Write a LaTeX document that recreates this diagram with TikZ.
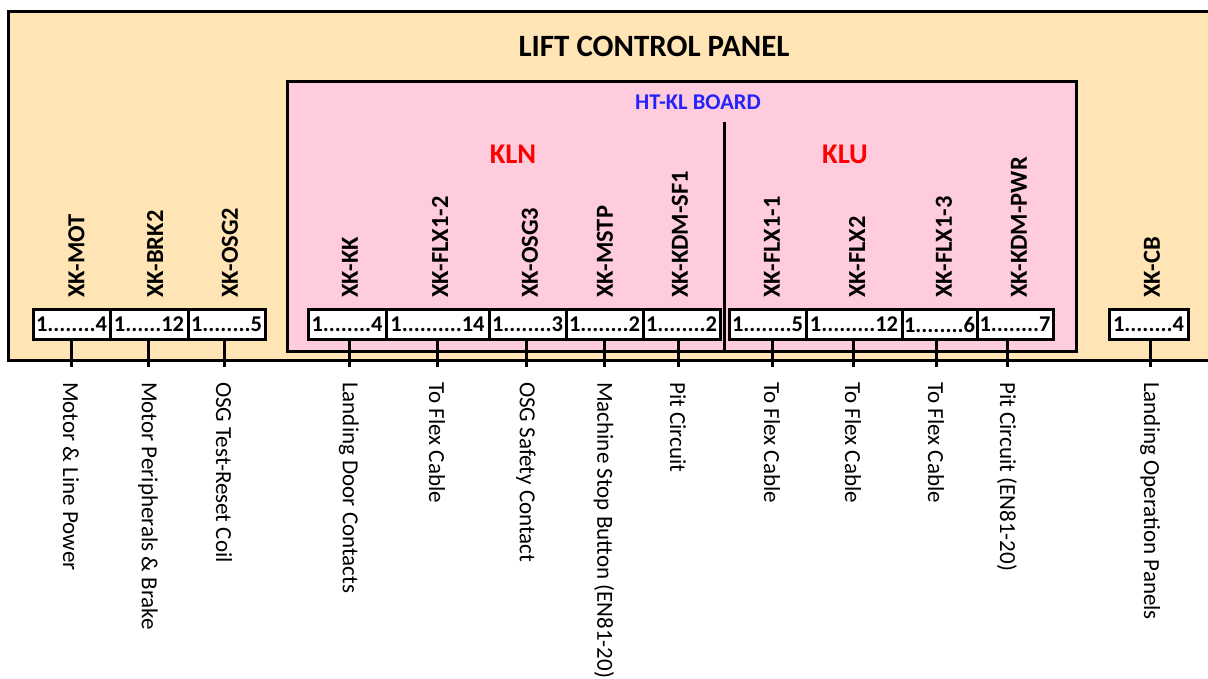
\documentclass[tikz,border=0pt]{standalone}
\usepackage{fontspec}
\setmainfont{Carlito}
\definecolor{panelfill}{RGB}{255,229,181}
\definecolor{boardfill}{RGB}{255,204,221}
\definecolor{boardblue}{RGB}{36,36,250}
\definecolor{blockred}{RGB}{255,0,0}

\tikzset{
  frame/.style={draw, line width=3pt},
  plug/.style={draw, line width=3pt, fill=white, minimum height=30pt, inner sep=0pt, font=\fontsize{22.5}{23}\selectfont\bfseries},
  tag/.style={rotate=90, anchor=west, inner sep=0pt, font=\fontsize{24.5}{25}\selectfont\bfseries},
  dest/.style={rotate=-90, anchor=west, inner sep=0pt, font=\fontsize{23}{24}\selectfont},
  wire/.style={line width=3pt, shorten >=15pt},
  block/.style={font=\fontsize{28.5}{29}\selectfont\bfseries, text=blockred},
}

\begin{document}
\begin{tikzpicture}[x=1pt,y=-1pt]
  \useasboundingbox (0,0) rectangle (1208,678);
  \clip (0,0) rectangle (1208,678);

  \draw[frame, fill=panelfill] (8,11) rectangle (1230,360);
  \node[font=\fontsize{31}{32}\selectfont\bfseries] (title) at (654,46) {LIFT CONTROL PANEL};

  \draw[frame, fill=boardfill] (287,81) rectangle (1076,351);
  \node[font=\fontsize{22.5}{23}\selectfont\bfseries, text=boardblue] (board) at (698,102) {HT-KL BOARD};
  \coordinate (split-top) at (724,122);
  \coordinate (split-bot) at (724,351);
  \draw[line width=3pt] (split-top) -- (split-bot);
  \node[block] (kln) at (513,154) {KLN};
  \node[block] (klu) at (845,154) {KLU};

  % connectors
  \node[plug, minimum width=77pt]  (mot)   at (71.5,324.5)   {1........4};
  \node[plug, minimum width=78pt]  (brk)   at (149,324.5)    {1......12};
  \node[plug, minimum width=77pt]  (osg2)  at (226.5,324.5)  {1........5};
  \node[plug, minimum width=78pt]  (kk)    at (347,324.5)    {1........4};
  \node[plug, minimum width=103pt] (flx12) at (437.5,324.5)  {1..........14};
  \node[plug, minimum width=77pt]  (osg3)  at (527.5,324.5)  {1........3};
  \node[plug, minimum width=77pt]  (mstp)  at (604.5,324.5)  {1........2};
  \node[plug, minimum width=77pt]  (sf1)   at (681.5,324.5)  {1........2};
  \node[plug, minimum width=77pt]  (flx11) at (767.5,324.5)  {1........5};
  \node[plug, minimum width=96pt]  (flx2)  at (854,324.5)    {1.........12};
  \node[plug, minimum width=75pt]  (flx13) at (939.5,324.5)  {1........6};
  \node[plug, minimum width=76pt]  (pwr)   at (1015,324.5)   {1........7};
  \node[plug, minimum width=79pt]  (cb)    at (1148.5,324.5) {1........4};

  \node[tag] (mot-tag)   at (76.5,298) {XK-MOT};
  \node[tag] (brk-tag)   at (155,298)  {XK-BRK2};
  \node[tag] (osg2-tag)  at (230,298)  {XK-OSG2};
  \node[tag] (kk-tag)    at (350,298)  {XK-KK};
  \node[tag] (flx12-tag) at (440,298)  {XK-FLX1-2};
  \node[tag] (osg3-tag)  at (530,298)  {XK-OSG3};
  \node[tag] (mstp-tag)  at (605,298)  {XK-MSTP};
  \node[tag] (sf1-tag)   at (680,298)  {XK-KDM-SF1};
  \node[tag] (flx11-tag) at (772,298)  {XK-FLX1-1};
  \node[tag] (flx2-tag)  at (857,298)  {XK-FLX2};
  \node[tag] (flx13-tag) at (944,298)  {XK-FLX1-3};
  \node[tag] (pwr-tag)   at (1019,298) {XK-KDM-PWR};
  \node[tag] (cb-tag)    at (1152,298) {XK-CB};

  \node[dest] (mot-dest)   at (71,382)   {Motor \& Line Power};
  \node[dest] (brk-dest)   at (148,382)  {Motor Peripherals \& Brake};
  \node[dest] (osg2-dest)  at (224,382)  {OSG Test-Reset Coil};
  \node[dest] (kk-dest)    at (349,382)  {Landing Door Contacts};
  \node[dest] (flx12-dest) at (437,382)  {To Flex Cable};
  \node[dest] (osg3-dest)  at (526,382)  {OSG Safety Contact};
  \node[dest] (mstp-dest)  at (604,382)  {Machine Stop Button (EN81-20)};
  \node[dest] (sf1-dest)   at (678,382)  {Pit Circuit};
  \node[dest] (flx11-dest) at (772,382)  {To Flex Cable};
  \node[dest] (flx2-dest)  at (853,382)  {To Flex Cable};
  \node[dest] (flx13-dest) at (936,382)  {To Flex Cable};
  \node[dest] (pwr-dest)   at (1007,382) {Pit Circuit (EN81-20)};
  \node[dest] (cb-dest)    at (1150,382) {Landing Operation Panels};

  \foreach \n in {mot,brk,osg2,kk,flx12,osg3,mstp,sf1,flx11,flx2,flx13,pwr,cb}
    \draw[wire] (\n.south -| \n-dest.west) -- (\n-dest.west);
\end{tikzpicture}
\end{document}
